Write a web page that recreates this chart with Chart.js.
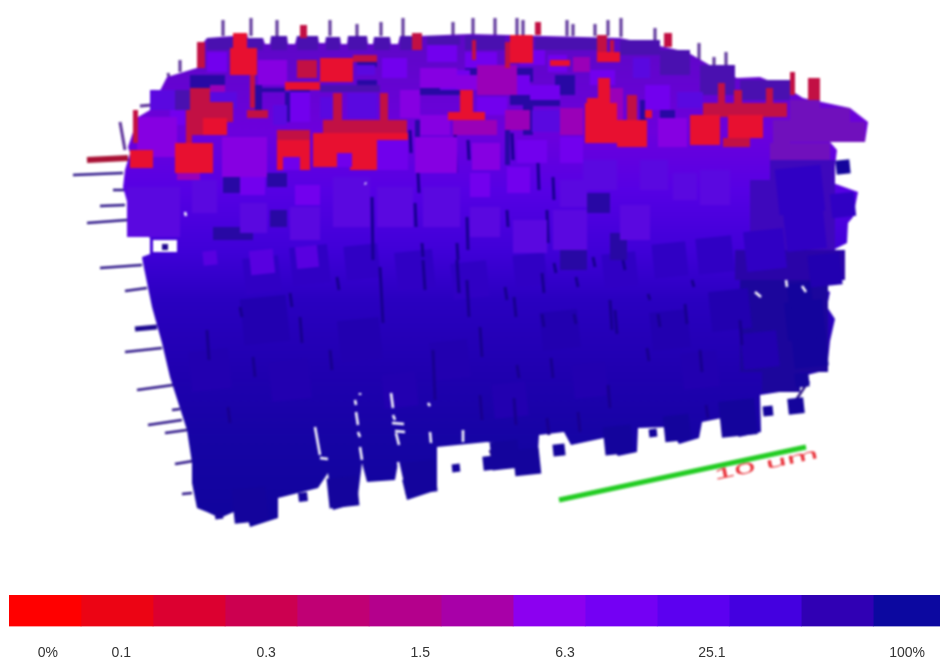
<!DOCTYPE html>
<html>
<head>
<meta charset="utf-8">
<title>Pore network saturation</title>
<script src="https://cdn.jsdelivr.net/npm/chart.js@4/dist/chart.umd.min.js"></script>
<style>
  html, body { margin: 0; padding: 0; background: #fff; overflow: hidden; }
  #sceneBox { position: absolute; left: 0; top: 0; width: 940px; height: 590px; filter: blur(0.8px); }
  #barBox { position: absolute; left: 0; top: 595px; width: 943px; height: 63px; filter: blur(0.4px); }
</style>
</head>
<body>
<div id="sceneBox"><canvas id="sceneChart"></canvas></div>
<div id="barBox"><canvas id="barChart"></canvas></div>
<script>
  // colour bar
  const barColors = ['#ff0000', '#ec0414', '#dc0030', '#cc0050', '#c00074', '#b4008c', '#a800a8',
                     '#8c00f0', '#7400f4', '#5c00f0', '#4400e0', '#3000b4', '#0c08a0'];
  const barTickPos = [0.54, 1.56, 3.57, 5.71, 7.72, 9.76, 12.47];
  const barTickText = ['0%', '0.1', '0.3', '1.5', '6.3', '25.1', '100%'];

  // outline of the network
  const outlineX = [207,233,233,247,248,263,265,270,271,287,288,295,297,318,319,325,326,340,341,347,348,367,368,373,374,390,391,398,400,420,
                    470,620,660,687,713,737,760,787,803,850,868,865,830,837,833,858,853,848,847,833,
                    845,840,807,830,827,835,830,827,807,810,786,760,761,739,722,702,699,679,669,638,637,618,604,571,564,539,537,517,510,487,
                    437,437,407,398,395,367,362,357,333,328,318,278,278,250,245,220,207,197,192,192,187,170,162,152,143,
                    142,150,150,133,123,125,130,128,138,150,167,200,203];
  const outlineY = [38,36,33,33,38,38,44,44,36,36,44,44,36,36,43,43,37,37,44,44,36,36,44,44,37,37,44,44,36,36,
                    34,38,46,52,67,78,77,88,98,108,122,142,142,150,183,192,217,223,243,250,
                    260,279,280,292,307,319,341,370,375,383,391,395,432,437,418,422,438,444,427,428,452,456,438,445,432,435,469,474,445,442,
                    447,490,500,463,480,482,463,503,510,473,488,498,518,527,507,518,512,508,483,463,430,377,343,307,263,
                    257,254,238,223,187,170,153,147,117,110,77,67,43];
  const shadeY = [30, 130, 190, 250, 300, 370, 440, 530];
  const shadeColors = ['#5c08c4', '#6c00dc', '#5600e4', '#4000d8', '#2a00c0', '#2000b0', '#1604a4', '#10049c'];

  // stems: x1, y1, x2, y2
  const stemsTop = [[223,20,223,36],[251,18,251,36],[277,20,277,36],[330,20,330,36],[357,24,357,36],[381,22,381,36],[403,18,403,36],
                    [453,22,453,36],[473,18,473,36],[495,18,495,36],[517,18,517,36],[523,20,523,36],[567,20,567,36],[573,24,573,36],
                    [595,24,595,36],[608,20,608,36],[621,18,621,37],[655,28,655,42],[699,43,699,60],[714,57,714,73],[726,52,726,73],
                    [782,80,782,88],[180,60,180,72],[168,73,172,90],[153,90,158,110],[120,122,125,150],[140,106,152,105]];
  const stemsLeft = [[73,175,123,173],[113,190,125,190],[100,206,125,205],[87,223,127,220],
                     [100,268,142,265],[125,291,147,288],[125,352,162,348],[137,390,173,385],[172,410,180,409],[148,425,182,420],
                     [165,433,187,430],[175,464,193,461],[182,494,192,493],[833,160,833,183],[796,400,808,382],[502,462,527,460],[490,450,492,456]];
  const stemBlue = [[135,329,157,327]];
  const stemRed = [[87,160,128,158]];

  // dark gaps between columns, x1, y1, x2, y2
  const slits = [[410,130,411,153],[455,130,456,173],[468,140,469,160],[512,133,513,160],[538,163,539,190],[553,177,554,200],[418,173,419,193],
                 [415,203,416,227],[467,217,468,250],[507,210,508,227],[547,210,548,243],[457,243,458,260],[422,243,423,257],[372,197,373,260],
                 [514,297,516,317],[505,287,507,300],[551,358,553,378],[542,314,544,327],[517,365,519,378],[574,314,576,324],[576,277,578,287],
                 [593,257,595,267],[610,300,612,330],[615,310,617,334],[623,260,625,270],[658,314,660,327],[647,348,649,361],[692,280,694,287],
                 [685,304,687,324],[554,263,556,273],[542,273,544,293],[648,294,650,300],[578,412,580,432],[514,398,516,425],[547,418,549,435],
                 [608,385,610,408],[706,405,708,418],[380,267,383,323],[423,260,425,290],[433,350,435,400],[300,317,302,343],[253,357,255,377],
                 [207,330,209,360],[228,407,230,423],[457,260,459,293],[467,280,469,317],[480,327,482,357],[240,307,242,317],[337,277,339,290],
                 [290,293,292,307],[740,320,742,345],[700,350,702,372],[480,395,482,420],[330,350,332,370]];
  const holes = [[355,400,356,405],[356,412,358,425],[358,432,360,437],[360,447,362,460],[391,393,393,408],[393,415,395,420],[392,423,404,424],
                 [395,431,405,432],[396,433,399,445],[398,462,402,480],[315,427,320,455],[320,458,328,459],[430,432,431,443],[428,403,430,406],
                 [463,430,463,442],[786,280,787,287],[802,286,806,292],[755,292,761,297],[185,212,186,216],[365,183,366,184],[360,393,360,395]];

  // flat faces by colour: x1, y1, x2, y2
  const facesShadeHigh = [[770,160,835,250],[750,180,770,250]];
  const facesShadeMid = [[735,250,845,280]];
  const facesShadeLow = [[740,280,828,372],[762,372,800,392]];
  const facesDark = [[190,75,207,88],[285,92,290,122],[523,105,533,135],[513,68,533,82],[223,177,243,193],[267,173,287,187],[213,227,253,240],
                     [587,193,610,213],[610,233,627,260],[560,250,587,270],[270,210,287,227],[255,85,262,110],[640,100,646,125],
                     [207,75,225,88],[260,88,285,92],[357,80,377,90],[420,88,470,95],[510,85,530,105],[555,75,575,95],[660,110,675,118],
                     [415,120,420,170],[505,130,510,165],[357,62,377,67],[290,90,310,93],[465,68,500,75],[530,100,560,106],[175,90,190,108]];
  const facesCap = [[207,38,233,50],[248,38,263,50],[271,36,287,50],[297,36,318,50],[326,37,340,50],[348,36,367,50],[374,37,390,50],[400,36,420,50],
                    [427,36,460,45],[465,36,505,50],[535,38,600,50],[620,40,660,55],[660,50,690,75],[700,65,735,95],[740,80,790,100],[320,85,380,92],[170,90,205,110]];
  const facesBlueViolet = [[127,187,180,237],[192,180,217,213],[240,203,267,233],[290,207,320,240],[333,177,370,227],[377,187,413,227],[423,187,460,227],
                           [470,207,500,237],[513,220,547,253],[553,210,587,250],[583,160,617,190],[560,180,587,207],[673,173,697,200],[620,205,650,240],
                           [700,170,730,205],[677,92,703,108],[320,97,333,118],[347,93,377,118],[633,58,650,78],[532,110,560,132],
                           [210,92,237,108],[273,105,287,125],[357,65,375,75],[640,160,668,190],[150,90,175,110]];
  const facesViolet = [[427,45,457,62],[465,52,497,68],[477,97,507,115],[548,55,567,72],[517,140,547,163],[560,137,583,163],[290,92,310,122],[382,58,407,78],
                       [507,167,530,193],[470,173,490,197],[240,170,265,195],[207,52,227,72],[295,185,320,205],[440,70,470,90],[590,70,615,85],[645,85,670,110],
                       [520,50,545,65],[500,75,530,95],[530,85,560,100],[170,110,185,125]];
  const facesPurple = [[137,117,177,157],[222,137,267,177],[415,137,457,173],[472,143,500,170],[658,118,687,147],[258,60,287,85],[400,90,420,118],
                       [420,68,457,88],[420,115,450,135],[457,75,477,90]];
  const facesMagenta = [[177,160,200,180],[477,65,517,95],[453,120,497,135],[560,108,583,135],[573,57,590,72],[607,88,623,125],[505,110,530,130],[210,85,225,92]];
  const facesMauve = [[790,108,850,142],[850,122,865,142],[790,100,820,108],[773,120,790,143],[770,143,830,160]];
  const facesDeepRed = [[190,88,210,135],[197,42,205,68],[250,75,255,108],[247,110,268,118],[297,60,317,78],[353,55,377,62],[333,93,342,122],[380,93,388,123],
                        [323,120,407,135],[210,102,233,122],[277,130,310,140],[703,103,787,117],[723,138,750,147],[627,95,637,122],[505,42,510,68],[597,35,607,52],
                        [718,83,725,107],[734,90,742,112],[766,88,773,110],[808,78,820,100],[300,25,307,38],[790,72,795,95],[535,22,541,35],[664,33,672,47],
                        [412,33,422,50],[133,110,138,143],[186,110,192,143],[198,90,210,127],[472,40,476,60],[610,40,614,60]];
  const facesRed = [[233,33,247,48],[230,48,257,75],[320,58,353,82],[285,82,320,90],[203,118,227,135],[130,150,153,168],[175,143,213,173],[277,140,310,170],
                    [313,133,350,167],[350,133,408,170],[510,35,533,63],[597,52,620,62],[598,78,610,108],[587,98,607,135],[622,122,647,147],[690,115,720,145],
                    [728,115,763,138],[460,90,473,113],[448,112,485,120],[617,120,647,147],[585,103,617,143],[550,60,570,66],[645,110,652,118]];
  const facesCut = [[283,157,300,170],[337,153,350,167],[377,140,408,170],[340,153,352,167]];
  const facesHole = [[153,240,177,252]];
  const facesHoleDot = [[162,244,168,250]];

  // lower cubes by colour: x, y, size
  const cubesNavy = [[250,505,34],[343,492,30],[420,477,32],[505,455,28],[618,440,28],[677,428,26],
                     [738,418,36],[768,411,10],[796,406,16],[802,380,14],[653,433,8],[559,450,12],[490,463,14],[527,462,26],[456,468,8],
                     [303,497,9],[219,515,8],[810,350,34],[805,320,38],[800,295,24],[843,167,14]];
  const cubesBlue = [[265,320,46],[360,340,42],[450,360,38],[560,330,38],[670,330,38],[730,310,40],[760,350,36],[700,370,36],
                     [590,380,34],[510,400,34],[400,390,34],[290,380,40],[210,370,40],[825,270,32]];
  const cubesIndigo = [[262,275,36],[310,265,38],[362,262,34],[415,270,38],[470,280,36],[530,270,32],[620,270,34],[670,260,34],
                       [715,255,36],[765,250,40],[805,230,40],[843,205,24],[800,190,46]];
  const cubesBright = [[262,262,24],[307,257,22],[210,258,14]];

  const shadeLevels = [
    { list: facesShadeHigh, fill: '#3e08bc' },
    { list: facesShadeMid, fill: '#2a04a8' },
    { list: facesShadeLow, fill: '#1c069c' }
  ];
  const faceLevels = [
    { list: facesDark, fill: '#2808a4' },
    { list: facesCap, fill: '#4a10b0' },
    { list: facesBlueViolet, fill: '#5a08e0' },
    { list: facesViolet, fill: '#7200ee' },
    { list: facesPurple, fill: '#8600e2' },
    { list: facesMagenta, fill: '#9a00b8' },
    { list: facesMauve, fill: '#7010bc' },
    { list: facesDeepRed, fill: '#c21044' },
    { list: facesRed, fill: '#e81030' },
    { list: facesCut, fill: '#7000ec' },
    { list: facesHole, fill: '#ffffff' },
    { list: facesHoleDot, fill: '#200890' }
  ];
  const cubeLevels = [
    { list: cubesNavy, fill: '#14049c' },
    { list: cubesBlue, fill: '#2200b0' },
    { list: cubesIndigo, fill: '#3000c4' },
    { list: cubesBright, fill: '#5800e0' }
  ];

  // scale bar
  const scaleBarX = [559, 806];
  const scaleBarY = [500, 447];

  // turn x1,y1,x2,y2 rows into one polyline with gaps
  var toSegments = function(rows) {
    var pts = [];
    rows.forEach(function(r) {
      pts.push({ x: r[0], y: r[1] }, { x: r[2], y: r[3] }, { x: null, y: null });
    });
    return pts;
  };

  var lineSet = function(rows, color, width) {
    return {
      type: 'scatter', data: toSegments(rows), showLine: true, spanGaps: false,
      borderColor: color, borderWidth: width, pointRadius: 0, borderCapStyle: 'butt'
    };
  };

  var faceSet = function(row, color) {
    return {
      type: 'scatter', showLine: true, fill: 'shape', pointRadius: 0, borderWidth: 0, backgroundColor: color,
      data: [{ x: row[0], y: row[1] }, { x: row[2], y: row[1] }, { x: row[2], y: row[3] }, { x: row[0], y: row[3] }]
    };
  };

  var shadeFill = function(context) {
    var chart = context.chart;
    if (!chart.chartArea) return '#3008b8';
    var scale = chart.scales.y;
    var top = scale.getPixelForValue(shadeY[0]);
    var bottom = scale.getPixelForValue(shadeY[shadeY.length - 1]);
    var g = chart.ctx.createLinearGradient(0, top, 0, bottom);
    shadeY.forEach(function(v, i) {
      g.addColorStop((v - shadeY[0]) / (shadeY[shadeY.length - 1] - shadeY[0]), shadeColors[i]);
    });
    return g;
  };

  // datasets listed back to front, reversed below because Chart.js paints the first one last
  var sceneSets = [];
  sceneSets.push(lineSet(stemsTop, '#5a3098', 3));
  sceneSets.push(lineSet(stemsLeft, '#2c1488', 2.5));
  sceneSets.push({
    type: 'scatter', showLine: true, fill: 'shape', pointRadius: 0, borderWidth: 0,
    data: outlineX.map(function(x, i) { return { x: x, y: outlineY[i] }; }),
    backgroundColor: shadeFill
  });
  shadeLevels.forEach(function(level) {
    level.list.forEach(function(row) {
      sceneSets.push(faceSet(row, level.fill));
    });
  });
  cubeLevels.forEach(function(level) {
    sceneSets.push({
      type: 'scatter',
      data: level.list.map(function(c) { return { x: c[0], y: c[1], s: c[2] }; }),
      pointStyle: 'rect', pointRotation: -6, backgroundColor: level.fill, borderWidth: 0,
      pointRadius: function(ctx) { return ctx.raw.s / Math.SQRT2; }
    });
  });
  sceneSets.push(lineSet(slits, '#180090', 3));
  faceLevels.forEach(function(level) {
    level.list.forEach(function(row) {
      sceneSets.push(faceSet(row, level.fill));
    });
  });
  sceneSets.push(lineSet(stemBlue, '#1c0890', 5));
  sceneSets.push(lineSet(stemRed, '#a81034', 6));
  sceneSets.push(lineSet(holes, '#ffffff', 2.5));
  sceneSets.push({
    type: 'scatter', showLine: true, pointRadius: 0, borderColor: '#22cc22', borderWidth: 5,
    data: scaleBarX.map(function(x, i) { return { x: x, y: scaleBarY[i] }; })
  });

  // the label of the scale bar lies flat in the scene, under the green bar
  var scaleLabel = {
    id: 'scaleLabel',
    beforeDatasetsDraw: function(chart) {
      var ctx = chart.ctx;
      var px = chart.scales.x.getPixelForValue(766);
      var py = chart.scales.y.getPixelForValue(465);
      ctx.save();
      ctx.translate(px, py);
      ctx.rotate(-12 * Math.PI / 180);
      ctx.scale(1.6, 0.62);
      ctx.font = '24px "Liberation Sans"';
      ctx.fillStyle = '#e83038';
      ctx.textAlign = 'center';
      ctx.textBaseline = 'middle';
      ctx.fillText('10 um', 0, 0);
      ctx.restore();
    }
  };

  new Chart(document.getElementById('sceneChart').getContext('2d'), {
    data: { datasets: sceneSets.slice().reverse() },
    options: {
      responsive: true, maintainAspectRatio: false, animation: false,
      layout: { padding: 0, autoPadding: false },
      plugins: { legend: { display: false }, tooltip: { enabled: false } },
      scales: {
        x: { type: 'linear', display: false, min: 0, max: 940 },
        y: { type: 'linear', display: false, min: 0, max: 590, reverse: true }
      }
    },
    plugins: [scaleLabel]
  });

  new Chart(document.getElementById('barChart').getContext('2d'), {
    type: 'bar',
    data: {
      labels: [''],
      datasets: barColors.map(function(c) {
        return { data: [1], backgroundColor: c, barPercentage: 1, categoryPercentage: 1, stack: 'bar' };
      })
    },
    options: {
      indexAxis: 'y', responsive: true, maintainAspectRatio: false, animation: false,
      layout: { padding: { left: 9, right: 0, top: 0, bottom: 0 }, autoPadding: false },
      plugins: { legend: { display: false }, tooltip: { enabled: false } },
      scales: {
        x: {
          type: 'linear', stacked: true, min: 0, max: 12.93,
          grid: { display: false, drawTicks: false }, border: { display: false },
          afterBuildTicks: function(axis) {
            axis.ticks = barTickPos.map(function(v) { return { value: v }; });
          },
          ticks: {
            autoSkip: false, maxRotation: 0, padding: 18, color: '#333',
            font: { family: '"Liberation Sans"', size: 14 },
            callback: function(value) { return barTickText[barTickPos.indexOf(value)]; }
          }
        },
        y: { stacked: true, display: false }
      }
    }
  });
</script>
</body>
</html>
